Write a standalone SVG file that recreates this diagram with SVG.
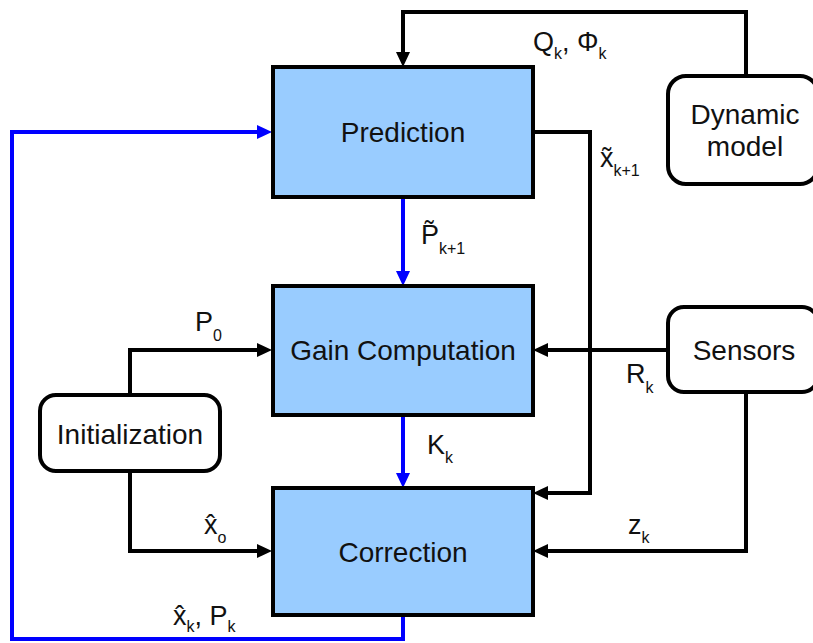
<svg xmlns="http://www.w3.org/2000/svg" width="813" height="643" viewBox="0 0 813 643">
  <style>
    .blk { fill: #99ccff; stroke: #000; stroke-width: 4; }
    .rnd { fill: #fff; stroke: #000; stroke-width: 4; }
    .t { font-family: "Liberation Sans", Arial, "DejaVu Sans", sans-serif; fill: #111; }
    .big { font-size: 28px; text-anchor: middle; }
    .lbl { font-size: 27px; }
    .sub { font-size: 16px; }
    .w { fill: none; stroke: #000; stroke-width: 4; stroke-linejoin: miter; }
    .b { fill: none; stroke: #0000ff; stroke-width: 4; stroke-linejoin: miter; }
  </style>
  <defs>
    <marker id="ak" markerUnits="userSpaceOnUse" markerWidth="16" markerHeight="14" refX="0" refY="7" orient="auto">
      <path d="M0,0 L15,7 L0,14 Z" fill="#000"/>
    </marker>
    <marker id="ab" markerUnits="userSpaceOnUse" markerWidth="16" markerHeight="14" refX="0" refY="7" orient="auto">
      <path d="M0,0 L15,7 L0,14 Z" fill="#0000ff"/>
    </marker>
  </defs>

  <g id="connectors">
    <!-- dynamic model -> prediction -->
    <path class="w" d="M746,76 V12 H403 V52" marker-end="url(#ak)"/>
    <!-- prediction -> correction (state estimate) -->
    <path class="w" d="M533,132 H590 V493 H548" marker-end="url(#ak)"/>
    <!-- prediction -> gain -->
    <path class="b" d="M403,197 V271" marker-end="url(#ab)"/>
    <!-- gain -> correction -->
    <path class="b" d="M403,415 V473" marker-end="url(#ab)"/>
    <!-- sensors -> gain -->
    <path class="w" d="M668,350 H548" marker-end="url(#ak)"/>
    <!-- sensors -> correction -->
    <path class="w" d="M746,392 V551 H548" marker-end="url(#ak)"/>
    <!-- initialization -> gain -->
    <path class="w" d="M130,395 V350 H257" marker-end="url(#ak)"/>
    <!-- initialization -> correction -->
    <path class="w" d="M130,471 V551 H257" marker-end="url(#ak)"/>
    <!-- correction -> prediction feedback -->
    <path class="b" d="M403,615 V639 H12 V132 H257" marker-end="url(#ab)"/>
  </g>

  <g id="prediction">
    <rect class="blk" x="273" y="67" width="260" height="130"/>
    <text class="t big" x="403" y="142">Prediction</text>
  </g>
  <g id="gain">
    <rect class="blk" x="273" y="286" width="260" height="129"/>
    <text class="t big" x="403" y="360">Gain Computation</text>
  </g>
  <g id="correction">
    <rect class="blk" x="273" y="488" width="260" height="127"/>
    <text class="t big" x="403" y="562">Correction</text>
  </g>
  <g id="dynamic-model">
    <rect class="rnd" x="668" y="76" width="150" height="108" rx="18"/>
    <text class="t big" x="745" y="124">Dynamic</text>
    <text class="t big" x="745" y="156">model</text>
  </g>
  <g id="sensors">
    <rect class="rnd" x="668" y="307" width="150" height="85" rx="16"/>
    <text class="t big" x="744" y="360">Sensors</text>
  </g>
  <g id="initialization">
    <rect class="rnd" x="40" y="395" width="180" height="76" rx="16"/>
    <text class="t big" x="130" y="444">Initialization</text>
  </g>

  <g id="labels">
    <text class="t lbl" x="533" y="51">Q<tspan class="sub" dy="8">k</tspan><tspan dy="-8">, Φ</tspan><tspan class="sub" dy="8">k</tspan></text>
    <text class="t lbl" x="600" y="167">x̃<tspan class="sub" dy="9">k+1</tspan></text>
    <text class="t lbl" x="421" y="244">P̃<tspan class="sub" dy="10">k+1</tspan></text>
    <text class="t lbl" x="195" y="331">P<tspan class="sub" dy="10">0</tspan></text>
    <text class="t lbl" x="626" y="383">R<tspan class="sub" dy="10">k</tspan></text>
    <text class="t lbl" x="427" y="454">K<tspan class="sub" dy="9">k</tspan></text>
    <text class="t lbl" x="204" y="534">x̂<tspan class="sub" dy="9">o</tspan></text>
    <text class="t lbl" x="628" y="534">z<tspan class="sub" dy="9">k</tspan></text>
    <text class="t lbl" x="173" y="625">x̂<tspan class="sub" dy="7">k</tspan><tspan dy="-7">, P</tspan><tspan class="sub" dy="7">k</tspan></text>
  </g>
</svg>
